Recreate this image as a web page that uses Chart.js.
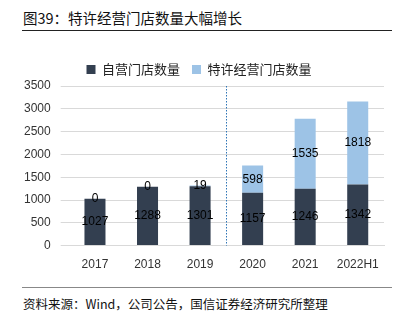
<!DOCTYPE html>
<html>
<head>
<meta charset="utf-8">
<script src="https://cdn.jsdelivr.net/npm/chart.js@4"></script>
<style>
  body { margin: 0; background: #fff; width: 406px; height: 326px; position: relative; overflow: hidden;
         font-family: "Noto Sans CJK SC", "Noto Sans", sans-serif; }
  #title { position: absolute; left: 23px; top: 7px; font-size: 14.5px; color: #111; }
  #topLine { position: absolute; left: 22px; top: 30px; width: 370px; height: 1px; background: #222; }
  #chartBox { position: absolute; left: 0; top: 51px; width: 406px; height: 225px; }
  #bottomLine { position: absolute; left: 22px; top: 287px; width: 370px; height: 1px; background: #888; }
  #source { position: absolute; left: 23px; top: 294px; font-size: 12.5px; color: #111; }
</style>
</head>
<body>
<div id="title">图39：特许经营门店数量大幅增长</div>
<div id="topLine"></div>
<div id="chartBox"><canvas id="storeChart"></canvas></div>
<div id="bottomLine"></div>
<div id="source">资料来源：Wind，公司公告，国信证券经济研究所整理</div>
<script>
var years = ['2017', '2018', '2019', '2020', '2021', '2022H1'];
var ownStores = [1027, 1288, 1301, 1157, 1246, 1342];
var franchiseStores = [0, 0, 19, 598, 1535, 1818];
var yTicks = [0, 500, 1000, 1500, 2000, 2500, 3000, 3500];

// Draw value labels in the middle of each segment
var labelPlugin = {
    id: 'segmentLabels',
    afterDatasetsDraw: function(chart) {
        var ctx = chart.ctx;
        ctx.save();
        ctx.font = '12px "Liberation Sans", Arial, sans-serif';
        ctx.fillStyle = '#000';
        ctx.textAlign = 'center';
        ctx.textBaseline = 'middle';
        chart.data.datasets.forEach(function(ds, i) {
            chart.getDatasetMeta(i).data.forEach(function(bar, j) {
                var mid = (bar.y + bar.base) / 2;
                ctx.fillText(String(ds.data[j]), bar.x, mid);
            });
        });
        ctx.restore();
    }
};

// Dotted divider between 2019 and 2020
var dividerPlugin = {
    id: 'divider',
    afterDatasetsDraw: function(chart) {
        var xs = chart.scales.x;
        var x = Math.round((xs.getPixelForValue(2) + xs.getPixelForValue(3)) / 2) + 0.5;
        var ctx = chart.ctx;
        ctx.save();
        ctx.strokeStyle = '#2E75B6';
        ctx.lineWidth = 1;
        ctx.setLineDash([1.5, 1.5]);
        ctx.beginPath();
        ctx.moveTo(x, chart.chartArea.top);
        ctx.lineTo(x, chart.chartArea.bottom);
        ctx.stroke();
        ctx.restore();
    }
};

var ctx = document.getElementById('storeChart').getContext('2d');
var storeChart = new Chart(ctx, {
    type: 'bar',
    data: {
        labels: years,
        datasets: [{
            label: '自营门店数量',
            data: ownStores,
            backgroundColor: '#333F50',
            barPercentage: 0.8,
            categoryPercentage: 0.5
        }, {
            label: '特许经营门店数量',
            data: franchiseStores,
            backgroundColor: '#9DC3E6',
            barPercentage: 0.8,
            categoryPercentage: 0.5
        }]
    },
    options: {
        responsive: true,
        maintainAspectRatio: false,
        animation: false,
        layout: { padding: { left: 14, right: 22, top: 0, bottom: 0 } },
        plugins: {
            legend: {
                position: 'top',
                labels: {
                    boxWidth: 9,
                    boxHeight: 9,
                    padding: 12,
                    color: '#222',
                    font: { size: 13, family: '"Noto Sans CJK SC", sans-serif' }
                }
            },
            tooltip: { enabled: false }
        },
        scales: {
            x: {
                stacked: true,
                grid: { display: false },
                border: { color: '#d9d9d9' },
                ticks: { color: '#333', font: { size: 12, family: '"Liberation Sans", Arial, sans-serif' }, padding: 4 }
            },
            y: {
                stacked: true,
                min: 0,
                max: 3500,
                afterBuildTicks: function(axis) {
                    axis.ticks = yTicks.map(function(v) { return { value: v }; });
                },
                grid: { color: '#d9d9d9' },
                border: { display: false },
                ticks: {
                    color: '#333',
                    font: { size: 12, family: '"Liberation Sans", Arial, sans-serif' },
                    padding: 10,
                    callback: function(v) { return String(v); }
                }
            }
        }
    },
    plugins: [labelPlugin, dividerPlugin]
});
</script>
</body>
</html>
